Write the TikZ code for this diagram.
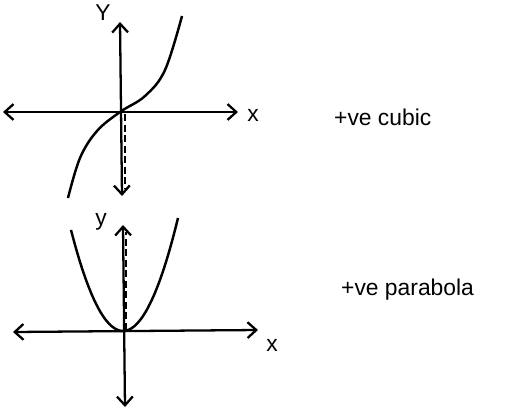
\documentclass[tikz,border=0pt]{standalone}
\usepackage{fontspec}
\setmainfont{Liberation Sans}
\usetikzlibrary{arrows.meta}
\tikzset{
  axis/.style={line width=1.3pt, {Straight Barb[length=5pt,width=9pt]}-{Straight Barb[length=5pt,width=9pt]}},
  curve/.style={line width=1.4pt},
  guide/.style={line width=1.1pt, dashed, dash pattern=on 4pt off 2pt},
  lbl/.style={font=\fontsize{13}{15}\selectfont}
}
\begin{document}
\begin{tikzpicture}[x=0.02cm, y=-0.02cm]
    \useasboundingbox (0,0) rectangle (517,413);

    % 三次函数：坐标轴
    \coordinate (c0) at (120,112);
    \coordinate (cL) at (3,112);
    \coordinate (cR) at (238,112);
    \coordinate (cT) at (120,22);
    \coordinate (cB) at (122,196);
    \draw[axis] (cL) -- (cR);
    \draw[axis] (cB) -- (cT);
    \draw[guide] (125,114) coordinate (cd1) -- (125,188) coordinate (cd2);
    \node[lbl] (cy) at (103,13) {Y};
    \node[lbl] (cx) at (253,115) {x};

    % 三次函数：曲线
    \draw[curve] plot[smooth, tension=0.6] coordinates {(68,198) (80,158) (97,131) (120,112)
        (145,96) (165,70) (182,16)};
    \node[lbl, anchor=west] (ctext) at (328,117) {+ve cubic};

    % 抛物线：坐标轴
    \coordinate (p0) at (123,331);
    \coordinate (pL) at (13,332);
    \coordinate (pR) at (258,330);
    \coordinate (pT) at (123,225);
    \coordinate (pB) at (125,407);
    \draw[axis] (pL) -- (pR);
    \draw[axis] (pB) -- (pT);
    \draw[guide] (126,330) coordinate (pd1) -- (126,232) coordinate (pd2);
    \node[lbl] (py) at (101,222) {y};
    \node[lbl] (px) at (272,345) {x};

    % 抛物线：曲线
    \draw[curve] plot[smooth, domain=-52:55, samples=40] ({123+\x}, {331-105*(\x/53)^2});
    \node[lbl, anchor=west] (ptext) at (335,290) {+ve parabola};
\end{tikzpicture}
\end{document}
